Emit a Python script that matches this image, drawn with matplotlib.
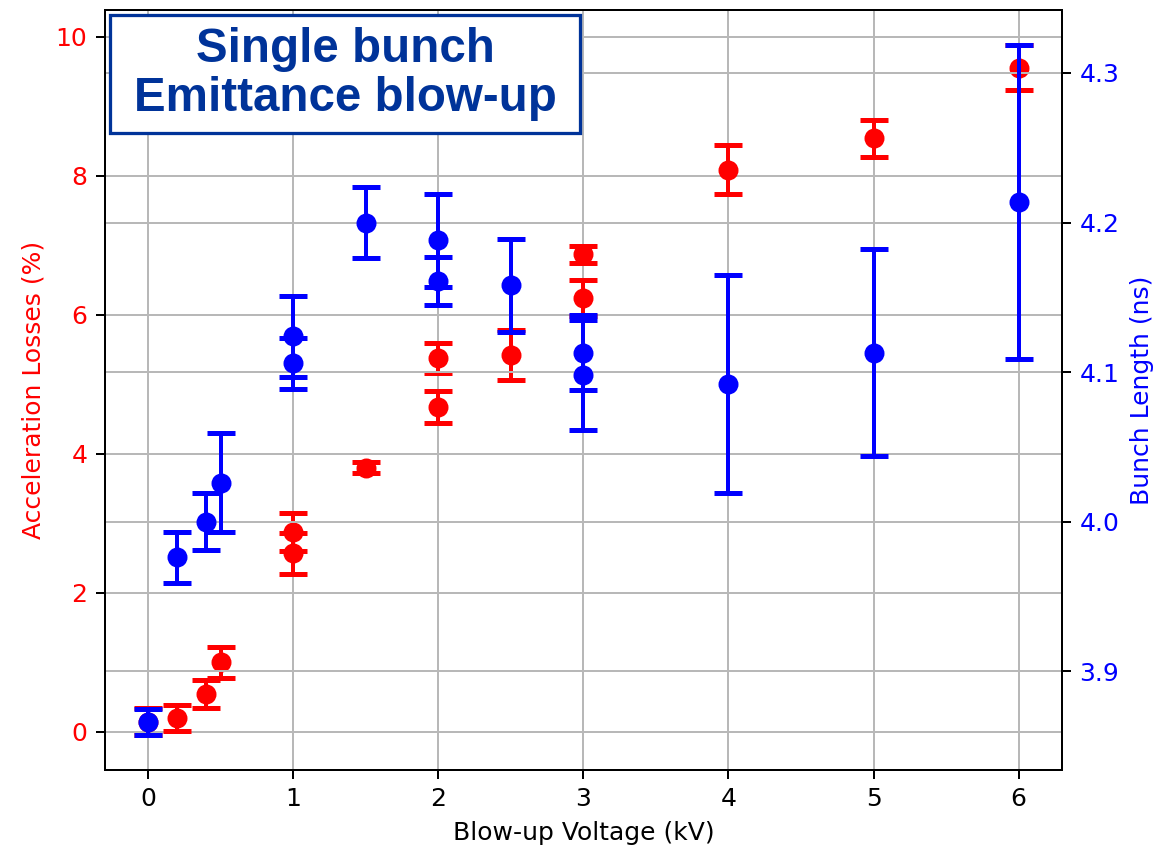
import matplotlib
matplotlib.use('Agg')
import matplotlib.pyplot as plt
from matplotlib.patches import Rectangle

# acceleration losses (left axis)
x_loss = [0, 0.2, 0.4, 0.5, 1, 1, 1.5, 2, 2, 2.5, 3, 3, 4, 5, 6]
loss = [0.15, 0.2, 0.55, 1.0, 2.88, 2.57, 3.80, 5.38, 4.68, 5.42, 6.87, 6.24, 8.09, 8.54, 9.56]
loss_err = [0.2, 0.19, 0.2, 0.22, 0.27, 0.29, 0.08, 0.21, 0.23, 0.36, 0.12, 0.26, 0.35, 0.27, 0.33]

# bunch length (right axis)
x_bl = [0, 0.2, 0.4, 0.5, 1, 1, 1.5, 2, 2, 2.5, 3, 3, 4, 5, 6]
bl = [3.866, 3.976, 4.000, 4.026, 4.124, 4.106, 4.200, 4.188, 4.161, 4.158, 4.113, 4.098, 4.092, 4.113, 4.214]
bl_err = [0.009, 0.017, 0.019, 0.033, 0.027, 0.017, 0.024, 0.031, 0.016, 0.031, 0.025, 0.037, 0.073, 0.069, 0.105]

fig = plt.figure(figsize=(1156 / 180, 851 / 180), dpi=180)
ax = fig.add_axes([0.0908, 0.0952, 0.8279, 0.893])

ax.errorbar(x_loss, loss, yerr=loss_err, fmt='o', color='red', capsize=5.5,
            capthick=2, elinewidth=1.6, markersize=7)
ax.set_xlabel('Blow-up Voltage (kV)')
ax.set_ylabel('Acceleration Losses (%)', color='red')
ax.tick_params(axis='y', labelcolor='red')
ax.grid(True, color='#b8b8b8')

ax2 = ax.twinx()
ax2.errorbar(x_bl, bl, yerr=bl_err, fmt='o', color='blue', capsize=5.5,
             capthick=2, elinewidth=1.6, markersize=7)
ax2.set_ylabel('Bunch Length (ns)', color='blue')
ax2.tick_params(axis='y', labelcolor='blue')
ax2.grid(True, color='#b8b8b8')
ax2.set_yticks([3.9, 4.0, 4.1, 4.2, 4.3])

# title box pasted on top
W, H = 1156, 851
box = Rectangle((110 / W, 1 - 133 / H), 470 / W, 118 / H, transform=fig.transFigure,
                facecolor='white', edgecolor='#003399', linewidth=1.3, zorder=5)
fig.patches.append(box)
fig.text(345 / W, 1 - 74 / H, 'Single bunch\nEmittance blow-up', ha='center', va='center',
         fontsize=19, fontweight='bold', color='#003399', family='Liberation Sans',
         linespacing=1.1, zorder=6)

fig.savefig('out.png', dpi=180)
